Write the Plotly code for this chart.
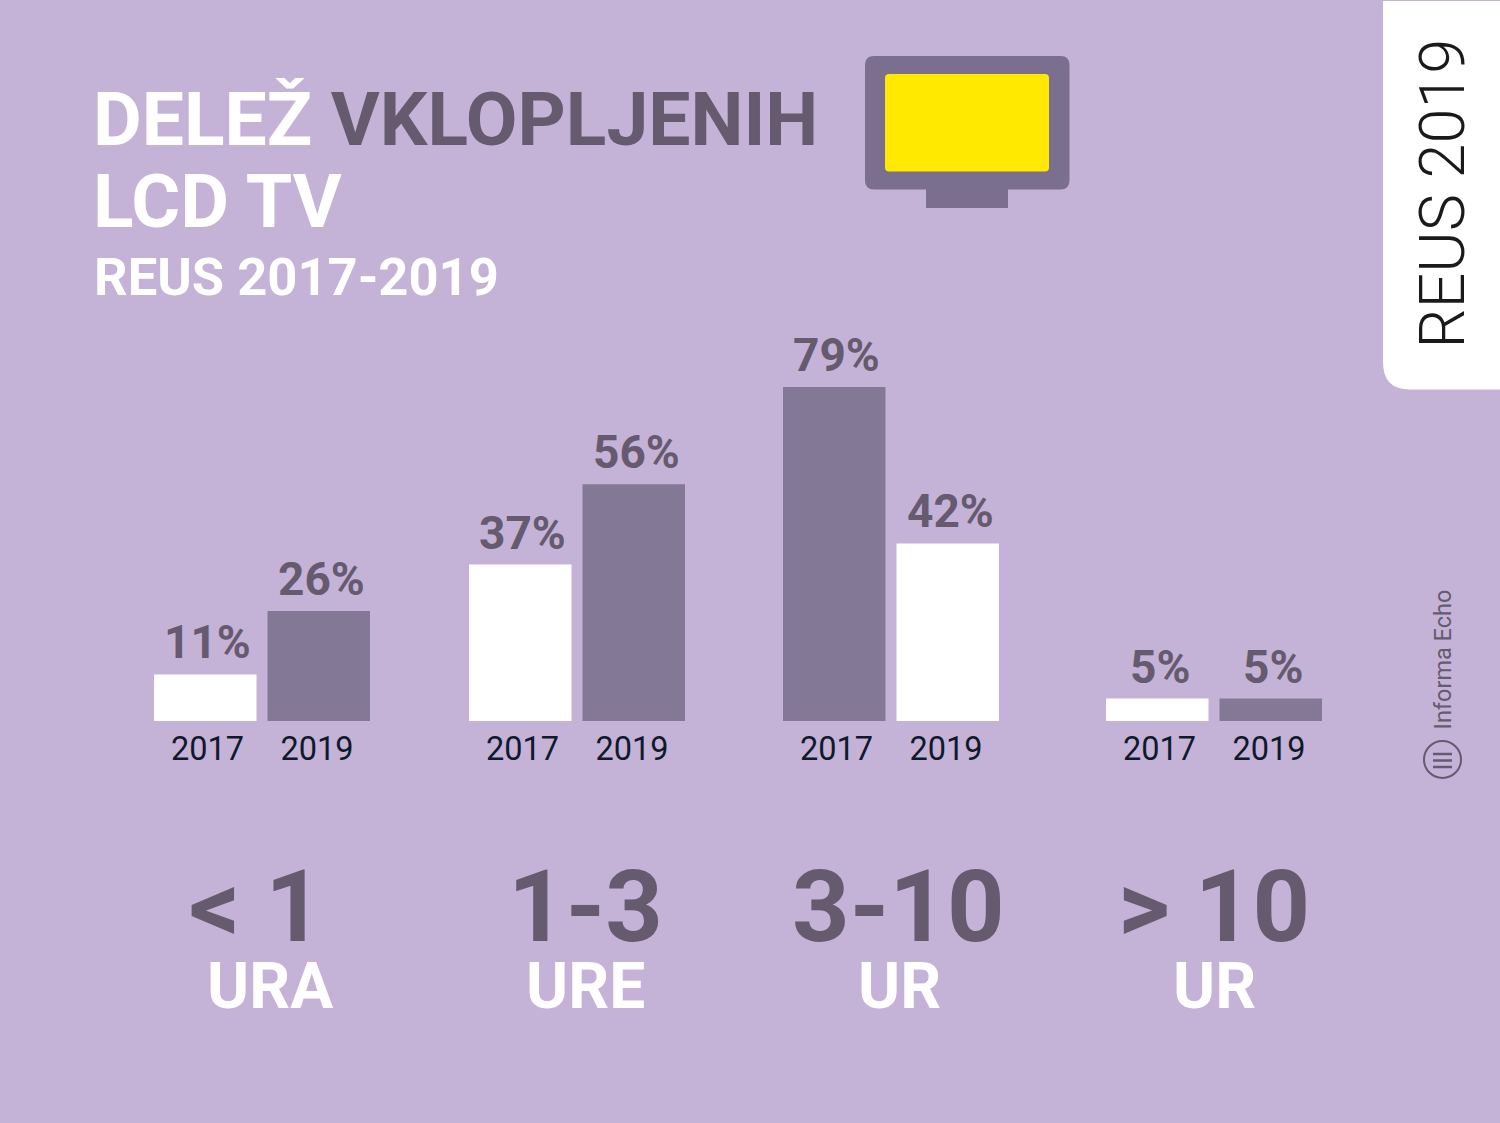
import plotly.graph_objects as go

# Data
groups = ["< 1", "1-3", "3-10", "> 10"]
group_units = ["URA", "URE", "UR", "UR"]
years = ["2017", "2019"]
values_2017 = [11, 37, 79, 5.3]
values_2019 = [26, 56, 42, 5.3]

# Layout constants (px on a 1500x1123 canvas)
W, H = 1500, 1123
BASE_Y = 721
PX_PER_PCT = 4.228
group_x = [262, 577, 891, 1214]
caption_x = [256, 585, 898, 1214]
unit_x = [270, 585, 899, 1214]
BAR_W = 102.5
BAR_GAP = 11

BG = "#c5b2d7"
BAR_DARK = "#837896"
TEXT_DARK = "#655a6e"
ICON = "#7a6f8e"
WHITE = "#ffffff"
FONT = "Roboto"


def py(y):
    # pixel y (from top) to paper y
    return 1 - y / H


fig = go.Figure()

colors_2017 = [BAR_DARK if a > b else WHITE for a, b in zip(values_2017, values_2019)]
colors_2019 = [WHITE if a > b else BAR_DARK for a, b in zip(values_2017, values_2019)]

fig.add_trace(go.Bar(x=group_x, y=values_2017, name=years[0], width=BAR_W,
                     offset=-BAR_W - BAR_GAP / 2, marker=dict(color=colors_2017, line_width=0)))
fig.add_trace(go.Bar(x=group_x, y=values_2019, name=years[1], width=BAR_W,
                     offset=BAR_GAP / 2, marker=dict(color=colors_2019, line_width=0)))

annotations = []


def add_text(text, x, y, size, color, weight=700, angle=0, xanchor="left"):
    annotations.append(dict(
        text=text, x=x, y=py(y), xref="x", yref="paper", xanchor=xanchor, yanchor="middle",
        showarrow=False, textangle=angle, align="left",
        font=dict(family=FONT, size=size, color=color, weight=weight),
    ))


# Value labels sit on top of the bars
for cx, v17, v19 in zip(group_x, values_2017, values_2019):
    for off, v in ((-BAR_W / 2 - BAR_GAP / 2, v17), (BAR_W / 2 + BAR_GAP / 2, v19)):
        annotations.append(dict(
            text=f"{v:.0f}%", x=cx + off, y=v, xref="x", yref="y", xanchor="center", yanchor="bottom",
            xshift=2.5, yshift=3, showarrow=False,
            font=dict(family=FONT, size=46, color=TEXT_DARK, weight=700),
        ))

# Group captions
for cap, unit, g, u in zip(caption_x, unit_x, groups, group_units):
    add_text(g, cap, 907, 100.5, TEXT_DARK, xanchor="center")
    add_text(u, unit, 986, 64, WHITE, xanchor="center")

# Title block
add_text(f'DELEŽ <span style="color:{TEXT_DARK}">VKLOPLJENIH</span>', 91, 119, 75, WHITE)
add_text("LCD TV", 91, 201, 75, WHITE)
add_text("REUS 2017-2019", 91.5, 277, 52.5, WHITE)

# Side texts
add_text("REUS 2019", 1442, 193.5, 63, "#1a1a1a", weight=300, angle=-90, xanchor="center")
add_text("Informa Echo", 1442, 659.5, 23.5, TEXT_DARK, weight=400, angle=-90, xanchor="center")


def rrect(x0, y0, x1, y1, r):
    p0, p1 = py(y0), py(y1)
    ry = r / H
    rx = r / W
    x0, x1 = x0 / W, x1 / W
    return (f"M {x0 + rx} {p0} L {x1 - rx} {p0} Q {x1} {p0} {x1} {p0 - ry} "
            f"L {x1} {p1 + ry} Q {x1} {p1} {x1 - rx} {p1} L {x0 + rx} {p1} "
            f"Q {x0} {p1} {x0} {p1 + ry} L {x0} {p0 - ry} Q {x0} {p0} {x0 + rx} {p0} Z")


def path_shape(path, color):
    return dict(type="path", xref="paper", yref="paper", path=path, fillcolor=color, line_width=0, layer="below")


shapes = [
    # TV icon
    dict(type="rect", xref="paper", yref="paper", x0=926 / W, x1=1008 / W, y0=py(208), y1=py(185),
         fillcolor=ICON, line_width=0, layer="below"),
    path_shape(rrect(865, 56, 1069.5, 189.5, 9), ICON),
    path_shape(rrect(885, 74, 1049, 171.5, 4), "#ffe900"),
    # white tab, top right
    path_shape(f"M {1383 / W} {py(1)} L 1 {py(1)} L 1 {py(389.5)} L {1410 / W} {py(389.5)} "
               f"Q {1383 / W} {py(389.5)} {1383 / W} {py(362)} Z", WHITE),
    # Informa Echo logo
    dict(type="circle", xref="paper", yref="paper", x0=1424 / W, x1=1461 / W, y0=py(778), y1=py(741),
         fillcolor="rgba(0,0,0,0)", line=dict(color=TEXT_DARK, width=2)),
]
for ly in (754, 760.5, 767):
    shapes.append(dict(type="line", xref="paper", yref="paper", x0=1433 / W, x1=1452 / W, y0=py(ly), y1=py(ly),
                       line=dict(color=TEXT_DARK, width=2.5)))

tick_vals = []
tick_text = []
for cx in group_x:
    tick_vals += [cx - 54.5, cx + 55]
    tick_text += years

fig.update_layout(
    width=W,
    height=H,
    margin=dict(l=0, r=0, t=0, b=0),
    paper_bgcolor=BG,
    plot_bgcolor="rgba(0,0,0,0)",
    showlegend=False,
    barmode="overlay",
    annotations=annotations,
    shapes=shapes,
)
fig.update_xaxes(
    range=[0, W], domain=[0, 1], tickmode="array", tickvals=tick_vals, ticktext=tick_text,
    ticks="", showline=False, showgrid=False, zeroline=False, ticklabelstandoff=5,
    tickfont=dict(family=FONT, size=32.5, color="#0e1a2b"),
)
fig.update_yaxes(
    range=[0, BASE_Y / PX_PER_PCT], domain=[1 - BASE_Y / H, 1], visible=False, showgrid=False,
)

fig.write_html("out.html", config=dict(displayModeBar=False), post_script="document.body.style.margin='0';")
